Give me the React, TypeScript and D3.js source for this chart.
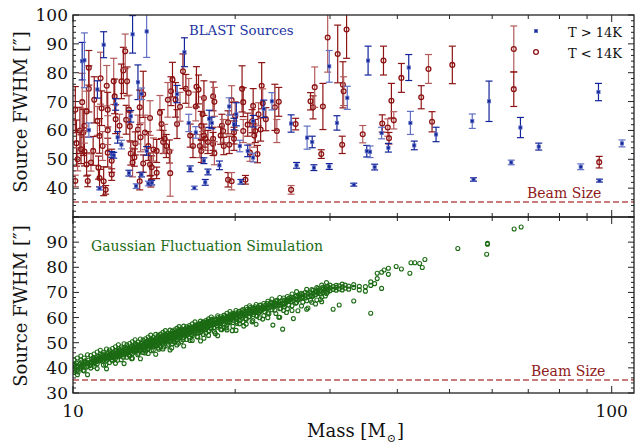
import React from "react";
import * as d3 from "d3";

// [mass, FWHM, error]
const coldSources: number[][] = [
  [10.1,42.5,2],[10.1,67.2,8],[10.15,55.6,8],[10.2,50,4],[10.3,60,8],[10.35,53.5,5],[10.4,69.8,10],[10.45,59.3,8],
  [10.5,52.7,5],[10.5,61.6,6],[10.7,74.4,8],[10.7,81.7,6],[10.6,66.6,7],[10.65,42.5,2],[10.6,48.2,4],[10.8,48.9,3],
  [10.9,52.9,5],[10.95,70.6,8],[11.1,63.3,5],[11.2,58.1,6],[11.15,47.1,4],[11.25,78.1,9],[11.2,43.5,3],[11.3,67.7,6],
  [11.35,54.6,5],[11.4,42.4,5],[11.5,39.4,1.5],[11.55,75.5,7],[11.6,67.2,6],[11.6,52.3,5],[11.6,60.1,5],[11.8,44.7,2],
  [11.8,49.5,4],[11.9,77,8],[11.95,71.8,6],[12.0,63.9,5],[12.2,61.6,4],[12.3,77,6],[12.4,80.8,8],[12.5,87.4,6],
  [12.55,63.7,5],[12.6,77,5],[12.7,67.2,5],[12.8,52,4],[12.75,61.4,5],[12.9,48.9,5],[13,50.6,3],[13.05,55.5,4],
  [13.2,60.3,5],[13.3,68,6],[13.3,42.4,3],[13.35,57.6,5],[13.5,48.5,3],[13.5,72.5,8],[13.6,59.3,6],[13.8,54.6,5],
  [13.9,48.2,4],[13.9,64.3,6],[13.95,42.4,2],[14,47.2,4],[14.1,53.4,4],[14.3,45.3,2],[14.3,52.9,4],[14.5,66.1,6],
  [14.6,62.2,5],[14.7,56,4],[14.8,57.1,5],[14.9,54.6,4],[15.1,52.7,4],[15.15,45.2,8],[15.3,77.6,6],[15.2,73.6,5],
  [15.0,70.6,6],[15.5,70.6,6],[15.6,62.2,5],[15.8,68.2,5],[16.0,80.5,6],[16.2,74.4,5],[16.4,73,5],[16.5,58.2,4],
  [16.7,54.6,4],[16.9,68.3,5],[16.95,75.1,7],[17.1,74.2,5],[17.2,54.6,4],[17.3,52.9,4],[17.5,71.2,6],[17.6,57.1,4],
  [17.8,56.0,4],[17.3,61.6,5],[17.4,65.6,6],[17.5,58.2,4],
  [18.2,71.8,5],[18.3,69.9,5],[18.2,57.1,4],[18.2,55.3,4],[18.3,52.1,4],[18.8,58.2,3],[18.9,61.6,4],[19.0,59.8,4],
  [19.05,54.6,3],[19.4,42.9,2.5],[19.7,42.4,3],[19.4,62.8,4],[19.5,55.0,3],[19.7,70.5,5],[19.9,59.3,4],[19.9,57.1,4],
  [20.0,65,5],[20.6,74.4,8],[20.7,69.8,5],[20.7,59.8,4],[20.9,42.9,1.5],[21.1,62,4],[21.3,52.3,3],[21.5,63.2,4],
  [21.6,68.5,6],[21.7,58.2,4],[21.8,59.8,4],[22.0,51.8,3],[22.1,65.6,4],[22.3,60.3,4],[22.4,75.5,8],[22.5,69.4,5],
  [22.8,63.9,4],[23.7,68,8],[23.9,59.8,4],[24.1,69.9,5],[25.9,62.2,2],[25.4,39.4,1.5],[27.6,70.1,3],[27.9,68,4],
  [28.1,75,7],[28.9,51.8,1.5],[29.1,68.3,8],[29.7,92.2,12],[31.0,86.5,10],[31.7,75.8,8],[31.8,73.6,5],[32.2,95,10],
  [31.6,55,3],[34.5,58.7,3],[37.7,84.2,5],[37.5,62.4,3],[38.4,61.0,3],[38.6,57.3,2],[39.0,70.3,6],[39.4,63.5,3],
  [40.7,78.2,5],[44.3,71.5,4],[45.7,81.3,5],[46.4,63,3.5],[50.6,82.7,6.5],[65.8,88.2,8],[65.8,74.3,6],[94.8,49,2],
];

const warmSources: number[][] = [
  [10.4,84,6.5],[10.5,84.3,9.5],[11.4,89.7,4.5],[12.9,93.3,6.5],[13.7,94.3,9],[16.1,87.1,5],[13.2,76.7,6],[13.4,72.7,2],
  [15.6,72.6,3],[11.1,74.2,3],[10.7,60.1,2.5],[12,69,2],[12.1,57.6,2],[12.3,55.1,1.5],[11.8,51.7,1],[11.9,51.4,1],
  [11.2,39.9,0.5],[12.8,64.9,2],[12.7,45.2,1],[13.1,40.7,0.8],[13.4,44.7,0.8],[13.7,52.9,1.5],[13.8,41.6,0.8],[14.0,41.9,0.8],
  [16.5,46.7,1],[16.8,40.1,0.6],[17.6,42,1],[17.8,45.6,1],[16.9,59.3,2],[17.9,64,3],[18.1,62.6,2],[16.4,62.6,3],
  [17.5,49.5,1],[18.7,47.9,1.5],[19.5,68.3,3],[19.9,62.2,2],[20.1,65.6,4],[20.4,54.6,2],[20.5,42.2,0.8],[21.1,52.9,2],
  [21.6,50.6,1.5],[21.6,63.2,2],[22.6,67.5,3],[23.4,70.1,3],[25.4,62.4,3],[26.0,47.9,1],[27.2,57.5,4],[27.8,56.0,2],
  [28.0,47.1,1],[29.9,82.2,5.5],[29.9,47.5,1],[30.9,62.6,2.5],[32.3,71.3,4],[33.2,41.2,0.5],[35.1,52.8,2],[35.6,52.6,2],
  [36.3,47.3,1],[35.3,84.2,5],[37.4,59.1,2],[38.5,54,1.5],[42.0,81.8,4.5],[42.3,62.6,4],[43.0,54.8,1.5],
  [47.2,58.6,2.5],[55.1,63.2,2.5],[55.4,43,0.6],[59.2,70.1,7],[65.1,48.9,0.8],[67.7,61,3.5],[73.2,54.4,1.2],
  [87.6,47.4,1],[94.5,73.3,3],[94.9,42.6,0.5],[104.5,55.5,1.2],
];

// simulation rows: [mass, fwhm values...]
const simRows: number[][] = [
  [10.0,39.6,40.9],[10.08,41.3,39.1],[10.15,40.2,41.9],[10.22,38.4,40.8],[10.3,41.5,39.8],[10.38,42.3,40.6],
  [10.45,41.1,38.9],[10.53,42.8,41.4],[10.6,40.3,42.1],[10.68,43.0,41.6],[10.75,42.2,40.9],[10.83,43.5,42.0],
  [10.9,42.8,44.0,41.5],[10.98,43.3,42.1],[11.05,44.1,43.0,42.4],[11.13,43.6,44.5],[11.2,42.9,44.0,43.4],
  [11.28,44.8,43.3],[11.35,43.9,45.1,42.7],[11.43,44.5,43.4,45.5],[11.5,44.0,45.2,41.2],[11.58,45.6,44.3,43.5],
  [11.65,44.8,46.0,43.9],[11.73,45.3,44.1,46.4],[11.8,44.6,45.8,43.2],[11.88,46.2,45.0,44.0],[11.95,45.4,46.7,44.5],
  [12.03,45.9,44.8,47.0],[12.1,46.3,45.1,43.0],[12.18,45.6,46.9,44.6],[12.25,47.2,46.0,45.0],[12.33,46.4,47.6,45.3],
  [12.4,45.8,46.9,44.2],[12.48,47.4,46.2,48.0],[12.55,46.7,45.5,47.8],[12.63,47.1,46.0,48.3],[12.7,46.5,47.7,45.2],
  [12.78,48.1,47.0,46.0],[12.85,47.4,48.6,43.6],[12.93,46.8,48.0,47.2],[13.0,48.4,47.3,46.3],[13.08,47.7,48.9,46.6],
  [13.15,48.2,47.0,49.3],[13.23,48.7,47.6,45.8],[13.3,49.1,48.0,46.9],[13.38,48.5,49.6,47.3],[13.45,47.8,49.0,50.0],
  [13.53,49.4,48.3,47.2],[13.6,48.8,50.1,45.9],[13.68,49.6,48.5,50.5],[13.75,50.0,48.9,47.6],[13.83,49.2,50.4,48.3],
  [13.9,50.8,49.7,48.7],[13.98,49.5,50.6,46.8],[14.05,50.1,51.2,49.0],[14.13,49.8,50.9,48.4],[14.2,51.3,50.2,49.2],
  [14.28,50.6,51.7,48.9],[14.35,50.0,51.0,52.0],[14.43,51.4,50.3,47.4],[14.5,50.9,52.1,49.6],[14.58,51.6,50.5,52.5],
  [14.65,51.1,49.9,52.2],[14.73,52.0,50.8,48.3],[14.8,51.5,52.7,50.3],[14.88,52.2,51.0,53.1],[14.95,51.7,50.6,52.9],
  [15.03,52.5,51.3,49.4],[15.1,52.0,53.2,50.8],[15.18,51.6,52.8,53.6],[15.25,52.9,51.8,47.9],[15.33,53.3,52.2,51.1],
  [15.4,52.6,53.8,50.5],[15.48,53.1,52.0,54.1],[15.55,53.6,52.4,51.3],[15.63,52.9,54.2,53.2],[15.7,53.9,52.7,49.8],
  [15.78,54.4,53.2,52.1],[15.85,53.7,54.8,52.5],[15.93,54.1,53.0,55.1],[16.0,53.5,54.7,51.2],[16.1,54.6,53.4,55.3],
  [16.2,55.0,53.9,52.8],[16.3,54.3,55.5,53.2],[16.4,55.2,54.0,56.0],[16.5,54.6,55.8,50.9],[16.6,55.5,54.4,53.3],
  [16.7,56.1,55.0,53.8],[16.8,55.4,56.5,54.2],[16.9,56.0,54.8,57.0],[17.0,55.6,56.7,52.4],[17.1,56.3,55.2,54.1],
  [17.2,56.9,55.8,57.5],[17.3,56.4,55.3,54.5],[17.4,57.2,56.0,58.0],[17.5,56.7,57.8,51.8],[17.6,57.4,56.3,55.2],
  [17.7,57.0,58.1,55.9],[17.8,57.8,56.6,58.6],[17.9,57.3,58.4,54.7],[18.0,58.0,56.9,55.8],[18.12,57.5,58.7,59.3],
  [18.25,58.3,57.2,56.0],[18.38,58.9,57.7,53.6],[18.5,58.1,59.3,56.8],[18.62,59.0,57.9,60.0],[18.75,58.5,59.6,56.6],
  [18.88,59.3,58.2,55.2],[19.0,59.8,58.6,57.4],[19.12,59.0,60.2,60.9],[19.25,59.7,58.6,55.9],[19.38,60.3,59.2,57.9],
  [19.5,59.6,60.8,58.4],[19.62,60.4,59.3,61.4],[19.75,60.9,59.8,54.8],[19.88,60.2,61.3,58.9],[20.0,60.8,59.7,61.8],
  [20.15,61.2,60.1,57.7],[20.3,60.6,61.7,62.4],[20.45,61.4,60.3,59.0],[20.6,61.9,60.8,62.8],[20.75,61.3,62.4,56.6],
  [20.9,62.0,60.9,59.6],[21.05,62.5,61.4,63.3],[21.2,61.9,63.0,60.2],[21.35,62.6,61.5,64.0],[21.5,63.1,62.0,58.3],
  [21.65,62.4,63.6,61.1],[21.8,63.3,62.2,64.3],[21.95,63.8,62.7,60.5],[22.1,63.1,64.2,61.8],[22.3,63.7,62.6,65.0],
  [22.5,64.3,63.2,59.4],[22.7,63.6,64.8,62.3],[22.9,64.6,63.5,65.6],[23.1,65.0,63.9,61.5],[23.3,64.4,65.5,66.2],
  [23.5,65.2,64.1,57.0],[23.7,65.8,64.6,62.9],[23.9,65.1,66.3,66.9],[24.1,66.0,64.9,60.1],[24.3,66.5,65.3,63.6],
  [24.5,65.8,67.0,55.4],[24.7,66.7,65.6,64.3],[24.9,67.2,66.1,62.0],[25.15,66.6,67.7,65.0],[25.4,67.4,66.3,68.2],
  [25.65,67.9,66.8,59.6],[25.9,67.3,68.5,65.7],[26.15,68.2,67.0,62.7],[26.4,68.7,67.5,69.4],[26.7,68.0,69.2,66.1],
  [27.0,68.9,67.8,70.1],[27.3,69.5,68.3,63.8],[27.6,68.8,70.0,66.9],[27.9,69.7,68.6,70.8],[28.2,70.3,69.1,65.4],
  [28.5,69.6,70.8,71.5],[28.8,70.5,69.4,67.2],[29.1,71.1,70.0,72.0],[29.4,70.4,71.6,68.6],[29.7,71.3,70.2,72.4],
  [30.0,71.8,70.7,72.9],[30.4,71.2,72.3,63.3],[30.8,72.0,70.9,72.8],[31.2,71.4,72.6,65.0],[31.6,72.2,71.0,73.3],
  [32.0,71.7,72.9],[32.5,72.5,71.3],[33.2,72.0,66.6,73.1],[34.0,71.0,72.4],[34.9,72.3,70.5],[35.7,74.2,61.7,72.8],
  [36.3,73.5],[36.7,77.6,75.5],[37.4,71.6,78.0],[37.8,78.9],[38.5,79.6,77.2],[39.8,80.3],[40.7,79.3],[42.2,77.6],
  [42.4,81.8],[43.1,81.8],[44.0,81.5],[44.5,79.9],[45.0,83.1],[51.8,87.5],[58.6,85.2],[58.8,89.2,89.5],[65.9,95.2],[67.9,96.0],
];

// second batch of simulated points read from the wider parts of the cloud
const simRowsWide: number[][] = [
  [10.04,43.1,38.2,41.4],[10.19,39.2,43.9,37.3],[10.34,43.1,40.4,44.7],[10.49,38.8,42.2,43.9],[10.64,45.2,40.7,37.3],
  [10.79,42.2,44.9,39.9],[10.94,45.5,40.6,43.8],[11.09,41.6,46.3,39.7],[11.24,45.4,42.7,47.0],[11.39,41.1,44.5,46.2],
  [11.54,47.5,43.0,39.6],[11.69,44.4,47.1,42.1],[11.84,47.7,42.8,46.0],[11.99,43.7,48.4,41.8],[12.14,47.6,44.9,49.2],
  [12.29,43.2,46.6,48.3],[12.44,49.6,45.1,41.7],[12.59,46.5,49.2,44.2],[12.74,49.7,44.8,48.0],[12.89,45.7,50.4,43.8],
  [13.04,49.6,46.9,51.2],[13.19,45.2,48.6,50.3],[13.34,51.5,47.0,43.6],[13.49,48.4,51.1,46.1],[13.64,51.6,46.7,49.9],
  [13.79,47.6,52.3,45.7],[13.94,51.4,48.7,53.0],[14.09,47.0,50.4,52.1],[14.24,53.3,48.8,45.4],[14.39,50.2,52.9,47.9],
  [14.54,53.4,48.5,51.7],[14.69,49.4,54.1,47.5],[14.84,53.2,50.5,54.8],[14.99,48.7,52.1,53.8],[15.14,55.0,50.5,47.1],
  [15.29,51.9,54.6,49.6],[15.44,55.1,50.2,53.4],[15.59,51.0,55.7,49.1],[15.74,54.8,52.1,56.4],[15.89,50.4,53.8,55.5],
  [16.05,56.6,52.1,48.7],[16.25,53.6,56.3,51.3],[16.45,56.8,51.9,55.1],[16.65,52.8,57.5,50.9],[16.85,56.7,54.0,58.3],
  [17.05,52.3,55.7,57.4],[17.25,58.6,54.1,50.7],[17.45,55.6,58.3,53.3],[17.65,58.8,53.9,57.1],[17.85,54.8,59.5,52.9],
  [18.06,58.6,55.9,60.2],[18.31,54.3,57.7,59.4],[18.56,60.7,56.2,52.8],[18.81,57.6,60.3,55.3],[19.06,60.9,56.0,59.2],
  [19.31,57.0,61.7,55.1],[19.56,60.8,58.1,62.4],[19.81,56.5,59.9,61.6],[20.07,62.8,58.3,54.9],[20.37,59.8,62.5,57.5],
  [20.67,63.2,58.3,61.5],[20.97,59.3,64.0,57.4],[21.27,63.1,60.4,64.7],[21.57,58.8,62.2,63.9],[21.87,65.2,60.7,57.3],
  [22.2,62.2,64.9,59.9],[22.6,65.6,60.7,63.9],[23.0,61.8,66.5,59.9],[23.4,65.8,63.1,67.4],[23.8,61.6,65.0,66.7],
  [24.2,68.0,63.5,60.1],[24.6,65.1,67.8,62.8],[25.0,68.4,63.5,66.7],[25.5,64.7,69.4,62.8],[26.0,68.7,66.0,70.3],
  [26.55,64.6,68.0,69.7],[27.15,71.2,66.7,63.3],[27.75,68.4,71.1,66.1],[28.35,71.9,67.0,70.2],[28.95,68.2,72.9,66.3],
  [29.55,72.3,69.6,73.9],
];

const beamSize = 35.2;
const xMajor = [10, 100];
const xMinor = [20, 30, 40, 50, 60, 70, 80, 90];
const topYLabels = [40, 50, 60, 70, 80, 90, 100];
const botYLabels = [30, 40, 50, 60, 70, 80, 90];

const FONT = "DejaVu Serif";
const W = 642, H = 445;
const L = 73, R = 634;
const T1 = 15, B1 = 217, T2 = 217, B2 = 393;

const x = d3.scaleLog().domain([10, 110]).range([L, R]);
const y1 = d3.scaleLinear().domain([30, 100]).range([B1, T1]);
const y2 = d3.scaleLinear().domain([30, 100]).range([B2, T2]);

const RED = "#8e1414";
const RED_L = "#b45a5a";
const BLUE = "#13249a";
const BLUE_L = "#5f6fc4";
const GREEN = "#1c6b14";
const BEAM = "#b85050";
const AX = "#222";

function Frame({ y, top, bot, labels, labelY }: { y: d3.ScaleLinear<number, number>; top: number; bot: number; labels: number[]; labelY: number }) {
  const minorY = d3.range(30, 100.01, 2);
  const majorY = d3.range(30, 100.01, 10);
  return (
    <g>
      {minorY.map((v) => {
        const major = majorY.includes(v);
        const len = major ? 6 : 3;
        return (
          <g key={"y" + v}>
            <line x1={L} x2={L + len} y1={y(v)} y2={y(v)} stroke={AX} strokeWidth={1} />
            <line x1={R} x2={R - len} y1={y(v)} y2={y(v)} stroke={AX} strokeWidth={1} />
          </g>
        );
      })}
      {[...xMajor.map((v) => [v, 7]), ...xMinor.map((v) => [v, 4])].map(([v, len]) => (
        <g key={"x" + v}>
          <line x1={x(v)} x2={x(v)} y1={bot} y2={bot - len} stroke={AX} strokeWidth={1} />
          <line x1={x(v)} x2={x(v)} y1={top} y2={top + len} stroke={AX} strokeWidth={1} />
        </g>
      ))}
      {labels.map((v) => (
        <text key={"l" + v} x={68} y={y(v) + 6} textAnchor="end" fontFamily={FONT} fontSize={17} fill="#111">
          {v}
        </text>
      ))}
      <line x1={L} x2={R} y1={y(beamSize)} y2={y(beamSize)} stroke={BEAM} strokeWidth={1.5} strokeDasharray="6,3" />
      <text
        x={0}
        y={0}
        transform={`translate(27, ${labelY}) rotate(-90)`}
        textAnchor="middle"
        fontFamily={FONT}
        fontSize={18}
        fill="#111"
      >
        Source FWHM [″]
      </text>
    </g>
  );
}

export default function App() {
  const simPoints = [...simRows, ...simRowsWide].flatMap(([m, ...vs]) => vs.map((v) => [m, v]));
  return (
    <svg width={W} height={H} style={{ position: "absolute", left: 0, top: 0, background: "#fff" }}>
      <defs>
        <clipPath id="c1"><rect x={L} y={T1} width={R - L} height={B1 - T1} /></clipPath>
        <clipPath id="c2"><rect x={L} y={T2} width={R - L} height={B2 - T2} /></clipPath>
      </defs>
      <rect x={0} y={0} width={W} height={H} fill="#fff" />

      {/* top panel */}
      <Frame y={y1} top={T1} bot={B1} labels={topYLabels} labelY={112} />
      <g clipPath="url(#c1)">
        {coldSources.map(([m, v, e], i) => {
          const cx = x(m), cy = y1(v);
          const c = i % 3 === 0 ? RED_L : RED;
          return (
            <g key={"r" + i} stroke={c} strokeWidth={1.2} fill="none">
              <line x1={cx} x2={cx} y1={y1(v - e)} y2={y1(v + e)} />
              <line x1={cx - 3.5} x2={cx + 3.5} y1={y1(v - e)} y2={y1(v - e)} />
              <line x1={cx - 3.5} x2={cx + 3.5} y1={y1(v + e)} y2={y1(v + e)} />
              <circle cx={cx} cy={cy} r={2.4} stroke={RED} strokeWidth={1.3} />
            </g>
          );
        })}
        {warmSources.map(([m, v, e], i) => {
          const cx = x(m), cy = y1(v);
          const c = i % 3 === 1 ? BLUE_L : BLUE;
          return (
            <g key={"b" + i} stroke={c} strokeWidth={1.2} fill="none">
              <line x1={cx} x2={cx} y1={y1(v - e)} y2={y1(v + e)} />
              <line x1={cx - 3.5} x2={cx + 3.5} y1={y1(v - e)} y2={y1(v - e)} />
              <line x1={cx - 3.5} x2={cx + 3.5} y1={y1(v + e)} y2={y1(v + e)} />
              <rect x={cx - 1.6} y={cy - 1.6} width={3.2} height={3.2} fill={BLUE} stroke={BLUE_L} strokeWidth={0.8} />
            </g>
          );
        })}
      </g>
      <text x={189} y={35} fontFamily={FONT} fontSize={13.3} fill="#2233a0">BLAST Sources</text>
      <rect x={534.4} y={29.4} width={3.2} height={3.2} fill={BLUE} stroke={BLUE_L} strokeWidth={0.8} />
      <circle cx={536} cy={52} r={2.4} fill="none" stroke={RED} strokeWidth={1.3} />
      <text x={622} y={37} textAnchor="end" fontFamily={FONT} fontSize={13} fill="#111">T &gt; 14K</text>
      <text x={622} y={57.5} textAnchor="end" fontFamily={FONT} fontSize={13} fill="#111">T &lt; 14K</text>
      <text x={527} y={198} fontFamily={FONT} fontSize={14} fill="#8e1a1a">Beam Size</text>

      {/* bottom panel */}
      <Frame y={y2} top={T2} bot={B2} labels={botYLabels} labelY={306} />
      <g clipPath="url(#c2)">
        {simPoints.map(([m, v], i) => (
          <circle key={"g" + i} cx={x(m)} cy={y2(v)} r={2} fill="none" stroke={GREEN} strokeWidth={1.1} />
        ))}
      </g>
      <text x={91} y={251} fontFamily={FONT} fontSize={14} fill={GREEN}>Gaussian Fluctuation Simulation</text>
      <text x={531} y={376} fontFamily={FONT} fontSize={14} fill="#8e1a1a">Beam Size</text>

      {/* frames */}
      <rect x={L} y={T1} width={R - L} height={B1 - T1} fill="none" stroke={AX} strokeWidth={1.3} />
      <rect x={L} y={T2} width={R - L} height={B2 - T2} fill="none" stroke={AX} strokeWidth={1.3} />

      {xMajor.map((v) => (
        <text key={"xl" + v} x={x(v)} y={417} textAnchor="middle" fontFamily={FONT} fontSize={17} fill="#111">
          {v}
        </text>
      ))}
      <text x={307} y={437} fontFamily={FONT} fontSize={18} fill="#111">
        Mass [M
        <tspan dx={1} dy={5} fontSize={11}>⊙</tspan>
        <tspan dx={1} dy={-5}>]</tspan>
      </text>
    </svg>
  );
}
